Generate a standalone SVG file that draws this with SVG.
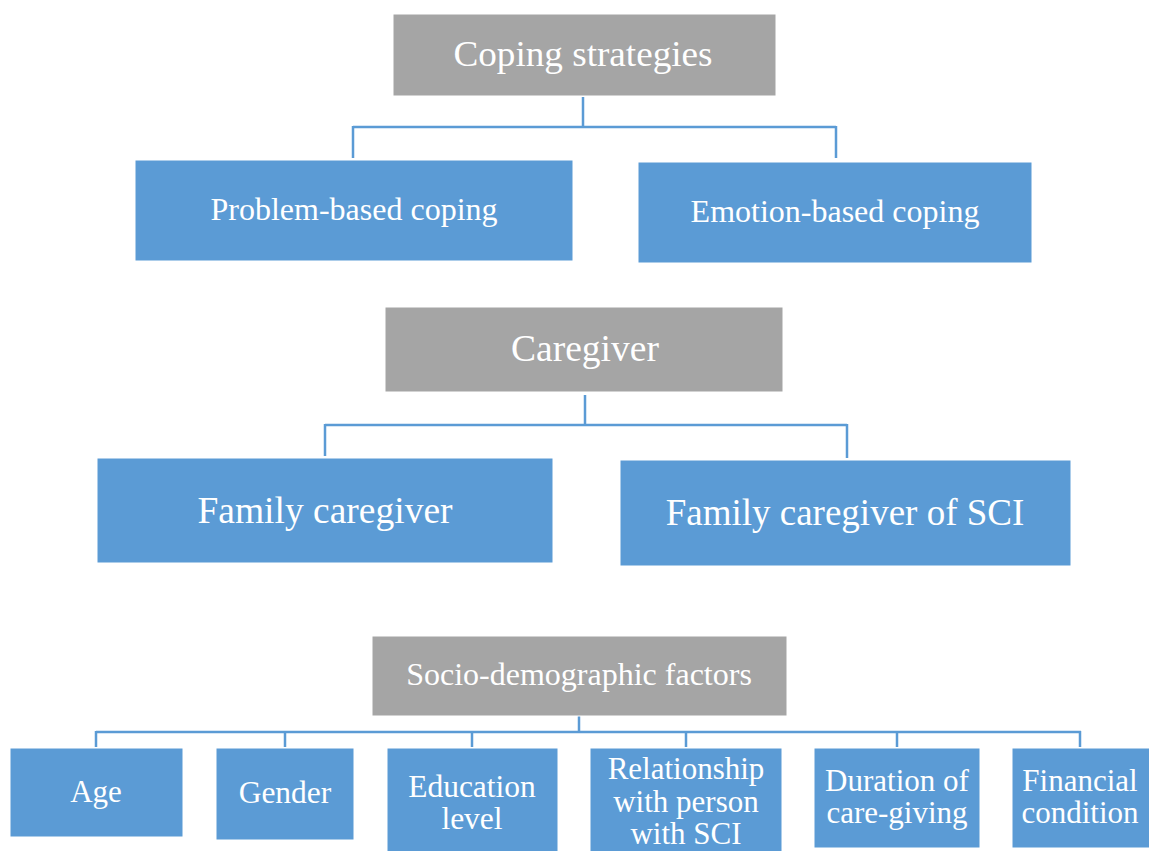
<svg xmlns="http://www.w3.org/2000/svg" width="1149" height="851" viewBox="0 0 1149 851">
<style>
.gray{fill:#A5A5A5;stroke:#ffffff;stroke-width:1}
.blue{fill:#5B9BD5;stroke:#ffffff;stroke-width:1}
.t{font-family:"Liberation Serif","Times New Roman",serif;fill:#ffffff;text-anchor:middle}
.c{fill:none;stroke:#5B9BD5;stroke-width:2.5}
</style>
<rect width="1149" height="851" fill="#ffffff"/>
<g id="connectors">
<path class="c" d="M583,97 V127 M353,127 H836 M353,126 V158 M836,126 V158"/>
<path class="c" d="M585,395 V425 M325,425 H847 M325,424 V456 M847,424 V458"/>
<path class="c" d="M579,716 V732 M96,732 H1081 M96,731 V747 M285,731 V747 M472,731 V747 M686,731 V747 M897,731 V747 M1080,731 V747"/>
</g>
<g id="coping-strategies">
<rect class="gray" x="393" y="14" width="383" height="82"/>
<text class="t" x="583" y="66" font-size="36" textLength="259" lengthAdjust="spacingAndGlyphs">Coping strategies</text>
</g>
<g id="problem-based">
<rect class="blue" x="135" y="160" width="438" height="101"/>
<text class="t" x="354" y="220" font-size="32">Problem-based coping</text>
</g>
<g id="emotion-based">
<rect class="blue" x="638" y="162" width="394" height="101"/>
<text class="t" x="835" y="222" font-size="32">Emotion-based coping</text>
</g>
<g id="caregiver">
<rect class="gray" x="385" y="307" width="398" height="85"/>
<text class="t" x="585" y="361" font-size="37.5">Caregiver</text>
</g>
<g id="family-caregiver">
<rect class="blue" x="97" y="458" width="456" height="105"/>
<text class="t" x="325" y="523" font-size="37.5">Family caregiver</text>
</g>
<g id="family-caregiver-sci">
<rect class="blue" x="620" y="460" width="451" height="106"/>
<text class="t" x="845" y="525" font-size="37">Family caregiver of SCI</text>
</g>
<g id="socio-demographic">
<rect class="gray" x="372" y="636" width="415" height="80"/>
<text class="t" x="579" y="685" font-size="32">Socio-demographic factors</text>
</g>
<g id="age">
<rect class="blue" x="10" y="748" width="173" height="89"/>
<text class="t" x="96" y="802" font-size="31">Age</text>
</g>
<g id="gender">
<rect class="blue" x="216" y="748" width="138" height="92"/>
<text class="t" x="285" y="803" font-size="31.5">Gender</text>
</g>
<g id="education">
<rect class="blue" x="387" y="748" width="171" height="105"/>
<text class="t" x="472" y="797" font-size="31.5">Education</text>
<text class="t" x="472" y="829" font-size="31.5">level</text>
</g>
<g id="relationship">
<rect class="blue" x="590" y="748" width="192" height="105"/>
<text class="t" x="686" y="779" font-size="31">Relationship</text>
<text class="t" x="686" y="812" font-size="31">with person</text>
<text class="t" x="686" y="844" font-size="31">with SCI</text>
</g>
<g id="duration">
<rect class="blue" x="814" y="748" width="166" height="100"/>
<text class="t" x="897" y="791" font-size="31">Duration of</text>
<text class="t" x="897" y="823" font-size="31">care-giving</text>
</g>
<g id="financial">
<rect class="blue" x="1012" y="748" width="140" height="100"/>
<text class="t" x="1080" y="791" font-size="31">Financial</text>
<text class="t" x="1080" y="823" font-size="31">condition</text>
</g>
</svg>
